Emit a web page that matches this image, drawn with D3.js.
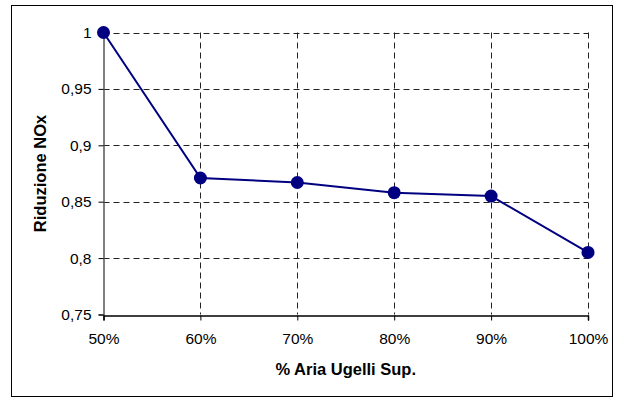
<!DOCTYPE html>
<html>
<head>
<meta charset="utf-8">
<script src="https://cdn.jsdelivr.net/npm/d3@7"></script>
<style>
  html, body { margin: 0; padding: 0; background: #fff; }
  svg { display: block; font-family: "Liberation Sans", Arial, sans-serif; }
  .tick text { font-size: 15.5px; fill: #000; }
</style>
</head>
<body>
<script>
// dati
const categories = ["50%", "60%", "70%", "80%", "90%", "100%"];
const riduzione = [1, 0.871, 0.867, 0.858, 0.855, 0.805];
const yTicks = [0.75, 0.8, 0.85, 0.9, 0.95, 1];

const width = 624, height = 401;
const margin = {top: 32.5, right: 36, bottom: 86.5, left: 103.5};

const svg = d3.select("body").append("svg")
  .attr("width", width)
  .attr("height", height);

// cornice esterna
svg.append("rect")
  .attr("x", 11.5).attr("y", 5.5)
  .attr("width", 601).attr("height", 391)
  .attr("fill", "#fff")
  .attr("stroke", "#000")
  .attr("stroke-width", 1);

const x = d3.scalePoint()
  .domain(categories)
  .range([margin.left, width - margin.right]);

const y = d3.scaleLinear()
  .domain([0.75, 1])
  .range([height - margin.bottom, margin.top]);

const fmt = d => d3.format(".2~f")(d).replace(".", ",");

// griglia tratteggiata
const grid = svg.append("g")
  .attr("stroke", "#222")
  .attr("stroke-width", 1)
  .attr("stroke-dasharray", "6,4");

grid.selectAll("line.h")
  .data(yTicks.slice(1))
  .enter().append("line")
  .attr("x1", margin.left).attr("x2", width - margin.right)
  .attr("y1", d => Math.round(y(d)) + 0.5).attr("y2", d => Math.round(y(d)) + 0.5);

grid.selectAll("line.v")
  .data(categories.slice(1))
  .enter().append("line")
  .attr("y1", margin.top).attr("y2", height - margin.bottom)
  .attr("x1", d => Math.round(x(d)) + 0.5).attr("x2", d => Math.round(x(d)) + 0.5);

// assi
const xAxis = g => g
  .attr("transform", `translate(0,${Math.round(y(0.75)) + 0.5})`)
  .call(d3.axisBottom(x).tickSize(5).tickPadding(12))
  .attr("font-size", null).attr("font-family", null)
  .call(g => g.select(".domain").attr("stroke-width", 1.5));

const yAxis = g => g
  .attr("transform", `translate(${margin.left},0)`)
  .call(d3.axisLeft(y).tickValues(yTicks).tickFormat(fmt).tickSize(5).tickPadding(7))
  .attr("font-size", null).attr("font-family", null)
  .call(g => g.select(".domain").attr("stroke", "#555").attr("stroke-width", 1.5));

svg.append("g").call(yAxis);
svg.append("g").call(xAxis);

// titoli
svg.append("text")
  .attr("x", (margin.left + width - margin.right) / 2)
  .attr("y", 375)
  .attr("text-anchor", "middle")
  .attr("font-size", 16.5)
  .attr("font-weight", "bold")
  .text("% Aria Ugelli Sup.");

svg.append("text")
  .attr("transform", `translate(46,${(margin.top + height - margin.bottom) / 2}) rotate(-90)`)
  .attr("text-anchor", "middle")
  .attr("font-size", 16.5)
  .attr("font-weight", "bold")
  .text("Riduzione NOx");

// serie
const line = d3.line()
  .x((d, i) => x(categories[i]))
  .y(d => y(d));

svg.append("path")
  .datum(riduzione)
  .attr("fill", "none")
  .attr("stroke", "#000080")
  .attr("stroke-width", 2)
  .attr("d", line);

svg.selectAll("circle")
  .data(riduzione)
  .enter().append("circle")
  .attr("cx", (d, i) => x(categories[i]))
  .attr("cy", d => y(d))
  .attr("r", 6.5)
  .attr("fill", "#000080");
</script>
</body>
</html>
